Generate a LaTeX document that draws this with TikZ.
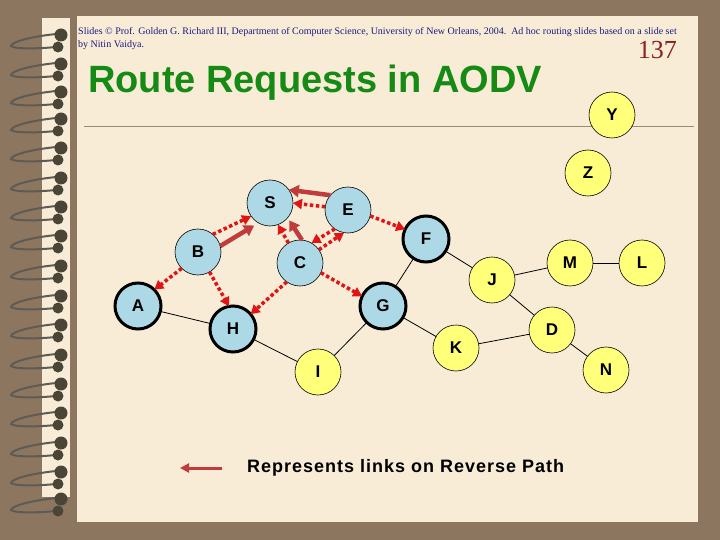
\documentclass[tikz,border=0pt]{standalone}
\usepackage{fontspec}
\setmainfont{Liberation Serif}
\setsansfont{Liberation Sans}
\newfontfamily\keyfont{Liberation Sans}[LetterSpace=5.5]
\usetikzlibrary{positioning,arrows.meta}
\definecolor{desk}{HTML}{8C765F}
\definecolor{paper}{HTML}{F8ECD6}
\definecolor{rulebrown}{HTML}{A08A6E}
\definecolor{navyink}{HTML}{1A1A80}
\definecolor{pagenum}{HTML}{8B2020}
\definecolor{titlegreen}{HTML}{158A15}
\definecolor{nodeblue}{HTML}{ADD8E6}
\definecolor{nodeyellow}{HTML}{FFFF7A}
\definecolor{bcast}{HTML}{E01414}
\definecolor{revred}{HTML}{C03C3C}
\definecolor{wire}{HTML}{5E5A54}
\definecolor{knob}{HTML}{4A4536}

\begin{document}
\begin{tikzpicture}[
  x=1pt, y=-1pt,
  font=\sffamily\bfseries,
  >={Triangle[length=9pt, width=10pt]},
  host/.style ={circle, draw=black, line width=0.6pt, minimum size=46pt,
                inner sep=0pt, outer sep=0pt,
                font=\sffamily\bfseries\fontsize{17}{17}\selectfont},
  seen/.style ={host, fill=nodeblue},
  heard/.style={host, fill=nodeblue, line width=3pt},
  idle/.style ={host, fill=nodeyellow},
  link/.style ={draw=black, line width=0.8pt},
  rreq/.style ={->, draw=bcast, line width=3.5pt, dash pattern=on 3.5pt off 2.5pt},
  rev/.style  ={->, draw=revred, line width=4.5pt,
                >={Triangle[length=10pt, width=12pt]}},
]
  \useasboundingbox (0,0) rectangle (720,540);

  % --- desk, paper and spiral ---
  \fill[desk]  (0,0) rectangle (720,540);
  \fill[paper] (77,16) rectangle (698,522);
  \fill[paper] (42,18) rectangle (70,497);
  \foreach \ry in {44,73,101,128,157,187,216,245,275,305,334,364,393,422,452,481,508} {
    \draw[wire, line width=2pt, line cap=round]
      (56,\ry-10) .. controls (28,\ry-7) and (12,\ry-2) .. (11,\ry+2)
                  .. controls (14,\ry+5) and (36,\ry+5) .. (56,\ry+3);
    \fill[knob] (61,\ry-9) circle (6.5) (58,\ry+3) circle (5.5);
  }

  % --- header ---
  \node[anchor=north west, align=left, text=navyink, inner sep=0pt,
        font=\rmfamily\mdseries\fontsize{10}{13.5}\selectfont] (credit) at (78,27)
    {Slides \copyright{} Prof. Golden G. Richard III, Department of Computer Science, University of New Orleans, 2004.\ \ Ad hoc routing slides based on a slide set\\
     by Nitin Vaidya.};
  \node[anchor=base east, text=pagenum, inner sep=0pt,
        font=\rmfamily\mdseries\fontsize{26}{26}\selectfont] (page) at (677,59) {137};

  \node[anchor=base west, text=titlegreen, inner sep=0pt,
        font=\sffamily\bfseries\fontsize{38}{38}\selectfont] (title) at (88,93) {Route Requests in AODV};
  \draw[rulebrown, line width=1pt] (84,127) -- (694,127);

  % --- hosts ---
  \node[idle]  (Y) at (612,115) {Y};
  \node[idle]  (Z) at (588,173) {Z};
  \node[seen]  (S) at (270,203) {S};
  \node[seen]  (E) at (348,210) {E};
  \node[heard] (F) at (426,239) {F};
  \node[seen]  (B) at (198,252) {B};
  \node[seen]  (C) at (300,263) {C};
  \node[idle]  (J) at (492,280) {J};
  \node[idle]  (M) at (570,263) {M};
  \node[idle]  (L) at (642,263) {L};
  \node[heard] (A) at (138,306) {A};
  \node[heard] (G) at (383,306) {G};
  \node[heard] (H) at (233,329) {H};
  \node[idle]  (D) at (552,330) {D};
  \node[idle]  (K) at (456,348) {K};
  \node[idle]  (I) at (318,372) {I};
  \node[idle]  (N) at (606,370) {N};

  % --- links ---
  \draw[link] (F) -- (J);
  \draw[link] (F) -- (G);
  \draw[link] (A) -- (H);
  \draw[link] (H) -- (I);
  \draw[link] (I) -- (G);
  \draw[link] (G) -- (K);
  \draw[link] (J) -- (M);
  \draw[link] (M) -- (L);
  \draw[link] (J) -- (D);
  \draw[link] (K) -- (D);
  \draw[link] (D) -- (N);

  % --- broadcast of the request ---
  \draw[rreq] (E.172) -- (S.0);
  \draw[rreq] (B.50)  -- (S.215);
  \draw[rreq] (C.120) -- (S.-70);
  \draw[rreq] (E.235) -- (C.60);
  \draw[rreq] (C.35)  -- (E.260);
  \draw[rreq] (E.-15) -- (F.155);
  \draw[rreq] (B.225) -- (A.45);
  \draw[rreq] (B.-60) -- (H.100);
  \draw[rreq] (C.235) -- (H.40);
  \draw[rreq] (C.-25) -- (G.155);

  % --- reverse path ---
  \draw[rev] (E.140) -- (S.35);
  \draw[rev, shorten >=5pt] (B.15)  -- (S.240);
  \draw[rev, shorten >=3pt] (C.85)  -- (S.-40);

  % --- key ---
  \coordinate (keytail) at (222,468);
  \coordinate (keyhead) at (180,468);
  \draw[rev, line width=3pt, >={Triangle[length=9pt, width=9pt]}] (keytail) -- (keyhead);
  \node[right=25pt of keytail, anchor=west, inner sep=0pt,
        font=\keyfont\bfseries\fontsize{18}{18}\selectfont] (keytext) {Represents links on Reverse Path};
\end{tikzpicture}
\end{document}
